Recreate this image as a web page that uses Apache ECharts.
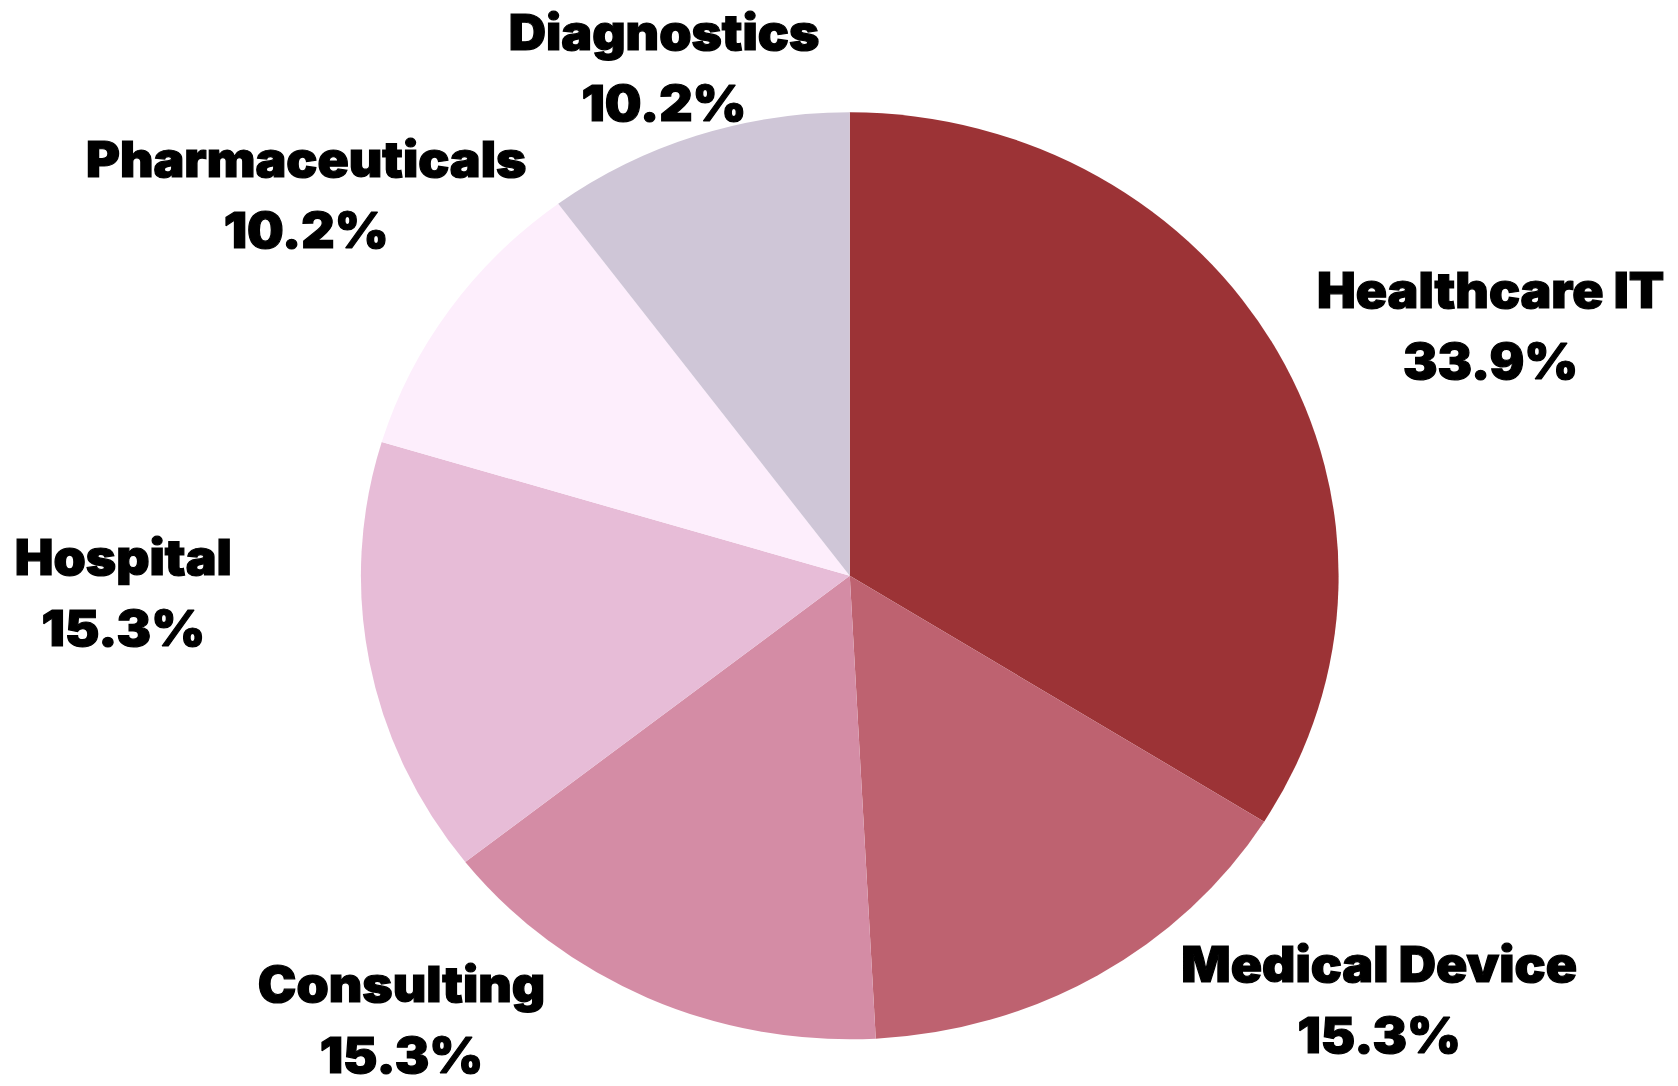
<!DOCTYPE html>
<html>
<head>
<meta charset="utf-8">
<script src="https://cdn.jsdelivr.net/npm/echarts/dist/echarts.min.js"></script>
<style>
  html, body { margin: 0; padding: 0; background: #ffffff; }
  #wrap { width: 1678px; height: 1086px; overflow: hidden; position: relative; background: #ffffff; }
  #chart { width: 1591px; height: 1086px; transform-origin: 0 0; transform: scaleX(1.05468); }
</style>
</head>
<body>
<div id="wrap"><div id="chart"></div></div>
<script>
// ---- data ----
const categories = ['Healthcare IT', 'Medical Device', 'Consulting', 'Hospital', 'Pharmaceuticals', 'Diagnostics'];
const values = [20, 9, 9, 9, 6, 6];

// ---- styles / layout ----
const sliceColors = ['#9C3336', '#BE6270', '#D48CA5', '#E7BCD7', '#FDEEFC', '#CFC6D7'];
const CX = 805.7, CY = 575.8, R = 463.5;
// label block centres, in units of the pie radius relative to the pie centre
const labelPlacement = [
  [1.311, -0.540],
  [1.083, 0.914],
  [-0.917, 0.958],
  [-1.486, 0.035],
  [-1.112, -0.823],
  [-0.380, -1.097]
];

const total = values.reduce((a, b) => a + b, 0);

const chart = echarts.init(document.getElementById('chart'), null, { renderer: 'svg' });
chart.setOption({
  backgroundColor: '#ffffff',
  animation: false,
  series: [{
    type: 'pie',
    center: [CX, CY],
    radius: R,
    startAngle: 90,
    clockwise: true,
    avoidLabelOverlap: false,
    data: categories.map((n, i) => ({ name: n, value: values[i], itemStyle: { color: sliceColors[i] } })),
    itemStyle: { borderWidth: 0 },
    label: {
      show: true,
      position: 'outside',
      formatter: p => p.name + '\n' + (p.value / total * 100).toFixed(1) + '%',
      fontFamily: 'Inter, "Noto Sans", sans-serif',
      fontWeight: 900,
      fontSize: 49,
      lineHeight: 71,
      color: '#000000',
      textBorderColor: '#000000',
      textBorderWidth: 1.2
    },
    labelLine: { show: false },
    labelLayout: p => ({
      x: CX + labelPlacement[p.dataIndex][0] * R,
      y: CY + labelPlacement[p.dataIndex][1] * R,
      align: 'center',
      verticalAlign: 'middle'
    }),
    emphasis: { disabled: true }
  }]
});
</script>
</body>
</html>
